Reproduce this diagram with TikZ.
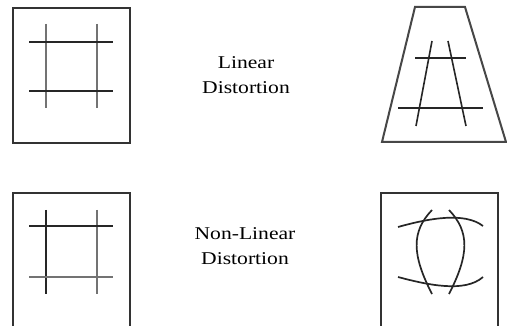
\documentclass[tikz,border=0pt]{standalone}
\usepackage{fontspec}
\newfontfamily\lblfont[FakeStretch=1.2]{Liberation Serif}
\begin{document}
\begin{tikzpicture}[x=1pt,y=-1pt,
  frame/.style={draw=black!80,line width=1.6pt},
  trap/.style={draw=black!72,line width=2pt,line join=miter},
  gdark/.style={draw=black!85,line width=1.6pt},
  glight/.style={draw=black!55,line width=2.3pt},
  curve/.style={draw=black!85,line width=1.7pt},
  lbl/.style={align=center,font=\lblfont\fontsize{18}{25}\selectfont,inner sep=0pt}]
\useasboundingbox[fill=white] (0,0) rectangle (507,326);
% top-left box
\draw[frame] (13,8) rectangle (130,143);
\draw[glight] (46,24) -- (46,108);
\draw[glight] (97,24) -- (97,108);
\draw[gdark] (29,42) -- (113,42);
\draw[gdark] (29,91) -- (113,91);
% trapezoid
\draw[trap] (415,7) -- (465,7) -- (506,142) -- (382,142) -- cycle;
\draw[gdark] (432,41) -- (416,126);
\draw[gdark] (448,41) -- (466,126);
\draw[gdark] (415,58) -- (466,58);
\draw[gdark] (398,108) -- (483,108);
% bottom-left box
\draw[frame] (13,330) -- (13,193) -- (130,193) -- (130,330);
\draw[gdark] (46,210) -- (46,294);
\draw[glight] (97,210) -- (97,294);
\draw[gdark] (29,226) -- (113,226);
\draw[glight] (29,277) -- (113,277);
% bottom-right box
\draw[frame] (381,330) -- (381,193) -- (498,193) -- (498,330);
\draw[curve] (398,227) .. controls (430,218) and (465,212) .. (483,226);
\draw[curve] (398,277) .. controls (428,285) and (465,293) .. (483,277);
\draw[curve] (432,210) .. controls (411,232) and (412,255) .. (432,294);
\draw[curve] (449,210) .. controls (470,232) and (469,255) .. (449,294);
% labels
\node[lbl] (lin) at (246,75) {Linear\\Distortion};
\node[lbl] (nonlin) at (245,246) {Non-Linear\\Distortion};
\end{tikzpicture}
\end{document}
